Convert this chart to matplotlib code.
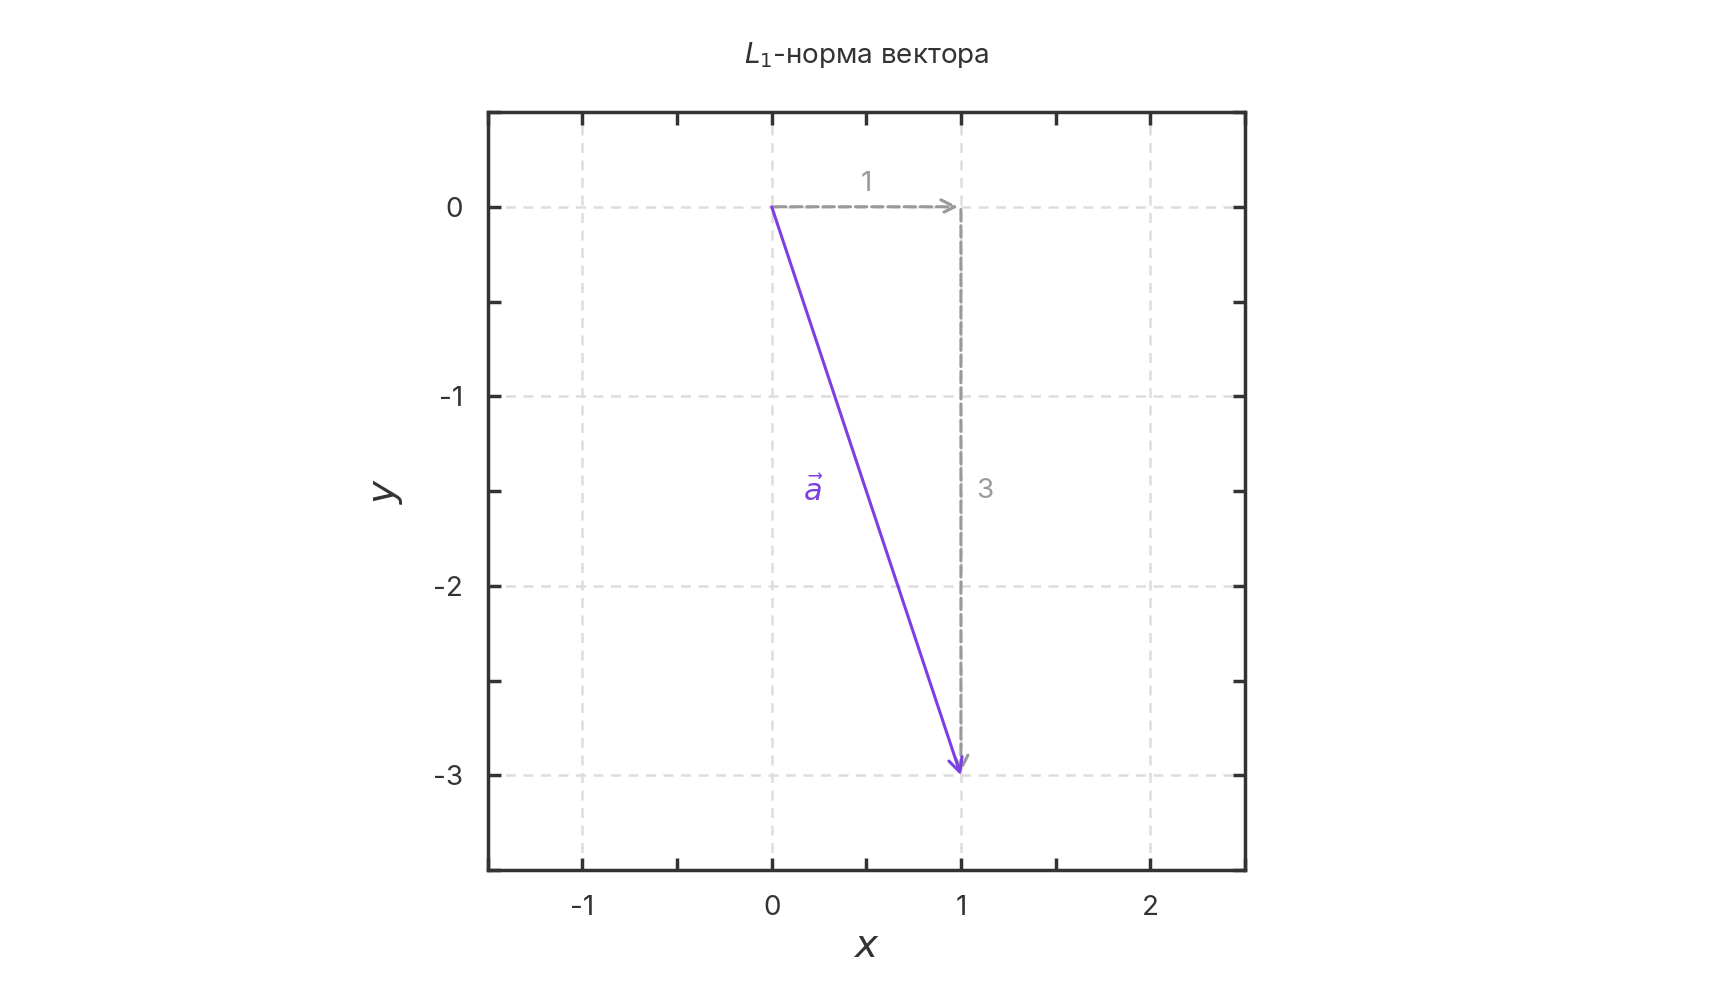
import matplotlib
matplotlib.use("Agg")
import matplotlib.pyplot as plt
from matplotlib.ticker import MultipleLocator, FuncFormatter

vec_a = [1, -3]
comp_x = [1, 0]
comp_y = [0, -3]
xticks = [-1, 0, 1, 2]
yticks = [0, -1, -2, -3]

plt.rcParams['font.family'] = ['Inter', 'DejaVu Sans']
fig = plt.figure(figsize=(17.24, 10), dpi=100)
ax = fig.add_axes([0.283, 0.13, 0.439, 0.758])
ax.set_xlim(-1.5, 2.5)
ax.set_ylim(-3.5, 0.5)
ax.set_xticks(xticks)
ax.set_yticks(yticks)
ax.xaxis.set_minor_locator(MultipleLocator(0.5))
ax.yaxis.set_minor_locator(MultipleLocator(0.5))
fmt = FuncFormatter(lambda v, p: f"{int(v)}".replace("\u2212", "-"))
ax.xaxis.set_major_formatter(fmt)
ax.yaxis.set_major_formatter(fmt)
ax.tick_params(which='both', direction='in', top=True, right=True, length=9, width=2.5, color='#333333', labelsize=20, labelcolor='#333333', pad=18)
ax.tick_params(which='minor', length=9)
for s in ax.spines.values():
    s.set_linewidth(2.5); s.set_color('#333333')
ax.grid(True, which='major', ls=(0, (4, 3)), color='#dddddd', lw=1.8)

gray = '#999999'
ax.annotate('', xy=(comp_x[0], comp_x[1]), xytext=(0, 0),
            arrowprops=dict(arrowstyle='->', color=gray, lw=2.2, ls='--', mutation_scale=25))
ax.annotate('', xy=(vec_a[0], vec_a[1]), xytext=(comp_x[0], comp_x[1]),
            arrowprops=dict(arrowstyle='->', color=gray, lw=2.2, ls='--', mutation_scale=25))
purple = '#7b3fe4'
ax.annotate('', xy=(vec_a[0], vec_a[1]), xytext=(0, 0),
            arrowprops=dict(arrowstyle='->', color=purple, lw=2.2, mutation_scale=25, shrinkA=0, shrinkB=0))
ax.text(0.5, 0.05, '1', color=gray, fontsize=20, ha='center', va='bottom')
ax.text(1.08, -1.5, '3', color=gray, fontsize=20, ha='left', va='center')
ax.text(0.22, -1.5, r'$\vec{a}$', color=purple, fontsize=22, ha='center', va='center')
ax.set_xlabel(r'$x$', fontsize=28, color='#333333', labelpad=5)
ax.set_ylabel(r'$y$', fontsize=28, color='#333333', labelpad=20)
fig.text(0.5025, 0.945, r'$L_1$-норма вектора', fontsize=20, color='#333333', ha='center', va='center')
fig.savefig('out.png', dpi=100, facecolor='white')
